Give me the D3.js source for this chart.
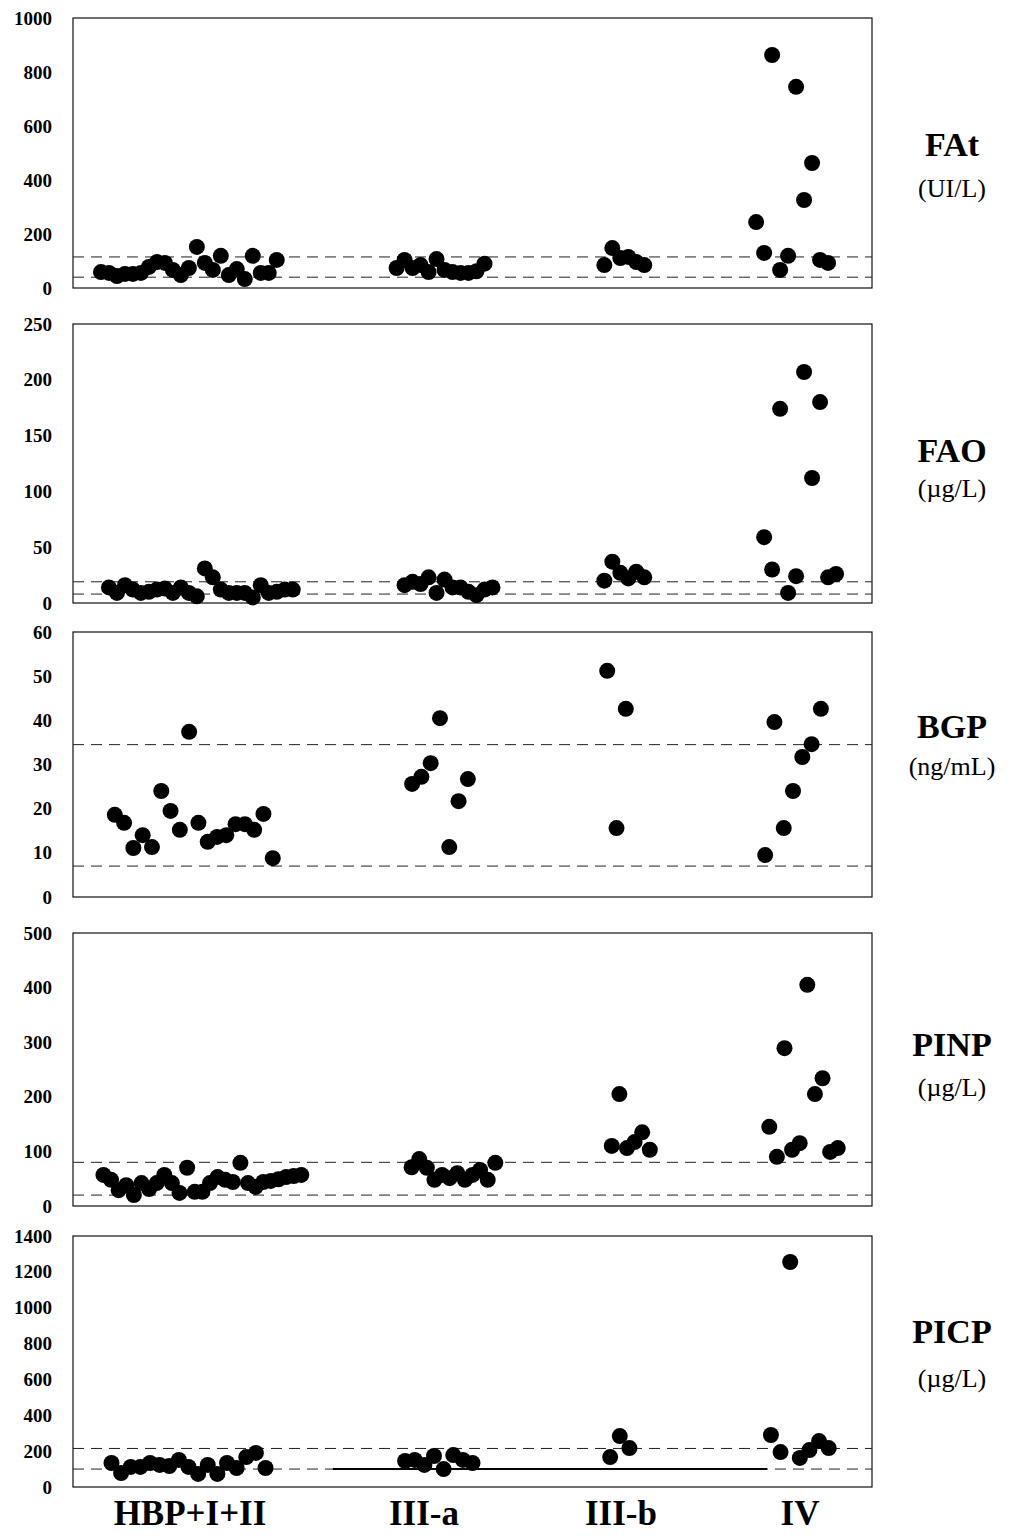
<!DOCTYPE html>
<html><head><meta charset="utf-8">
<script src="https://cdn.jsdelivr.net/npm/d3@7"></script>
<style>html,body{margin:0;padding:0;background:#fff}svg{display:block}</style>
</head><body>
<svg id="c" width="1020" height="1536"></svg>
<script>
// ---------- DATA ----------
const groupNames = ["HBP+I+II", "III-a", "III-b", "IV"];

// FAt (UI/L)
const fatHBP = [59,56,44,52,52,56,78,96,93,67,48,74,152,93,67,119,48,70,33,119,56,56,104];
const fatIIIa = [74,104,74,85,59,107,67,59,56,56,62,90];
const fatIIIb = [85,148,111,115,96,85];
const fatIV = [244,130,863,67,119,745,326,463,104,93];
const fatTicks = [0,200,400,600,800,1000];
const fatRefs = [115,40];

// FAO (µg/L)
const faoHBP = [14,9,16,12,9,10,12,13,9,14,9,6,31,23,12,9,9,9,5,16,9,10,12,12];
const faoIIIa = [16,19,17,23,9,21,14,14,10,7,12,14];
const faoIIIb = [20,37,27,22,28,23];
const faoIV = [59,30,174,9,24,207,112,180,23,26];
const faoTicks = [0,50,100,150,200,250];
const faoRefs = [19,8];

// BGP (ng/mL)
const bgpHBP = [18.6,16.8,11.1,14,11.3,24,19.5,15.2,37.4,16.8,12.5,13.6,14,16.5,16.5,15.2,18.8,8.8];
const bgpIIIa = [25.6,27.2,30.3,40.5,11.3,21.7,26.7];
const bgpIIIb = [51.2,15.6,42.6];
const bgpIV = [9.5,39.6,15.6,24,31.7,34.6,42.6];
const bgpTicks = [0,10,20,30,40,50,60];
const bgpRefs = [34.5,7];

// PINP (µg/L)
const pinpHBP = [57,48,29,38,20,42,31,42,57,42,24,70,26,26,42,53,48,44,79,42,35,44,46,49,53,55,57];
const pinpIIIa = [71,86,70,48,57,51,60,48,57,66,48,79];
const pinpIIIb = [110,205,106,117,135,103];
const pinpIV = [145,90,289,103,115,405,205,234,99,106];
const pinpTicks = [0,100,200,300,400,500];
const pinpRefs = [80,20];

// PICP (µg/L)
const picpHBP = [134,78,112,112,134,123,117,151,112,73,123,73,134,106,167,190,106];
const picpIIIa = [145,151,123,173,100,178,151,134];
const picpIIIb = [167,284,217];
const picpIV = [290,195,1255,162,206,256,217];
const picpTicks = [0,200,400,600,800,1000,1200,1400];
const picpRefs = [215,100];
const picpSolid = {from: 27, to: 72.1, value: 100};

// category slots (patient index) for each panel and group start slots
const fatSlots = 100,  fatStarts = [3,40,66,85];
const faoSlots = 100,  faoStarts = [4,41,66,86];
const bgpSlots = 86,   bgpStarts = [4,36,57,74];
const pinpSlots = 105, pinpStarts = [3.5,44,70.3,91];
const picpSlots = 83,  picpStarts = [3.5,34,55.3,72];

// ---------- LAYOUT ----------
const svg = d3.select("#c");
const xLeft = 73, xRight = 872;
const serif = "'Liberation Serif','Times New Roman',serif";

const panels = [
  {name:"FAt", unit:"(UI/L)", top:18, bottom:288, ticks:fatTicks, refs:fatRefs, slots:fatSlots, starts:fatStarts,
   groups:[fatHBP,fatIIIa,fatIIIb,fatIV], nameY:156, unitY:197},
  {name:"FAO", unit:"(\u00b5g/L)", top:324, bottom:603, ticks:faoTicks, refs:faoRefs, slots:faoSlots, starts:faoStarts,
   groups:[faoHBP,faoIIIa,faoIIIb,faoIV], nameY:462, unitY:497},
  {name:"BGP", unit:"(ng/mL)", top:632, bottom:897, ticks:bgpTicks, refs:bgpRefs, slots:bgpSlots, starts:bgpStarts,
   groups:[bgpHBP,bgpIIIa,bgpIIIb,bgpIV], nameY:738, unitY:775},
  {name:"PINP", unit:"(\u00b5g/L)", top:933, bottom:1206, ticks:pinpTicks, refs:pinpRefs, slots:pinpSlots, starts:pinpStarts,
   groups:[pinpHBP,pinpIIIa,pinpIIIb,pinpIV], nameY:1056, unitY:1096},
  {name:"PICP", unit:"(\u00b5g/L)", top:1236, bottom:1487, ticks:picpTicks, refs:picpRefs, slots:picpSlots, starts:picpStarts,
   groups:[picpHBP,picpIIIa,picpIIIb,picpIV], nameY:1343, unitY:1387, solid:picpSolid}
];

panels.forEach(p => {
  const g = svg.append("g");
  const y = d3.scaleLinear().domain([0, d3.max(p.ticks)]).range([p.bottom, p.top]);
  const x = d3.scaleLinear().domain([0, p.slots]).range([xLeft, xRight]);
  const cx = i => x(i + 0.5);

  // frame
  g.append("rect").attr("x", xLeft).attr("y", p.top)
    .attr("width", xRight - xLeft).attr("height", p.bottom - p.top)
    .attr("fill", "none").attr("stroke", "#111").attr("stroke-width", 1.2);

  // reference lines
  g.selectAll("line.ref").data(p.refs).join("line").attr("class", "ref")
    .attr("x1", xLeft).attr("x2", xRight)
    .attr("y1", d => y(d)).attr("y2", d => y(d))
    .attr("stroke", "#222").attr("stroke-width", 1).attr("stroke-dasharray", "11,7");

  if (p.solid) {
    g.append("line")
      .attr("x1", x(p.solid.from)).attr("x2", x(p.solid.to))
      .attr("y1", y(p.solid.value)).attr("y2", y(p.solid.value))
      .attr("stroke", "#000").attr("stroke-width", 2);
  }

  // y axis labels
  const ax = g.append("g").attr("transform", `translate(${xLeft},0)`)
    .call(d3.axisLeft(y).tickValues(p.ticks).tickSize(0).tickPadding(21).tickFormat(d3.format("d")));
  ax.select(".domain").remove();
  ax.selectAll("text").attr("font-family", serif).attr("font-weight", "bold")
    .attr("font-size", 19).attr("fill", "#000");

  // points
  const pts = [];
  p.groups.forEach((vals, gi) => vals.forEach((v, k) => pts.push({i: p.starts[gi] + k, v})));
  g.selectAll("circle").data(pts).join("circle")
    .attr("cx", d => cx(d.i)).attr("cy", d => y(d.v)).attr("r", 8).attr("fill", "#000");

  // right labels
  g.append("text").attr("x", 952).attr("y", p.nameY).attr("text-anchor", "middle")
    .attr("font-family", serif).attr("font-weight", "bold").attr("font-size", 34).text(p.name);
  g.append("text").attr("x", 952).attr("y", p.unitY).attr("text-anchor", "middle")
    .attr("font-family", serif).attr("font-size", 26).text(p.unit);
});

// bottom group labels
const groupLabelX = [190, 424, 621, 800];
svg.selectAll("text.grp").data(groupNames).join("text").attr("class", "grp")
  .attr("x", (d, i) => groupLabelX[i]).attr("y", 1525).attr("text-anchor", "middle")
  .attr("font-family", serif).attr("font-weight", "bold").attr("font-size", 35).text(d => d);
</script>
</body></html>
